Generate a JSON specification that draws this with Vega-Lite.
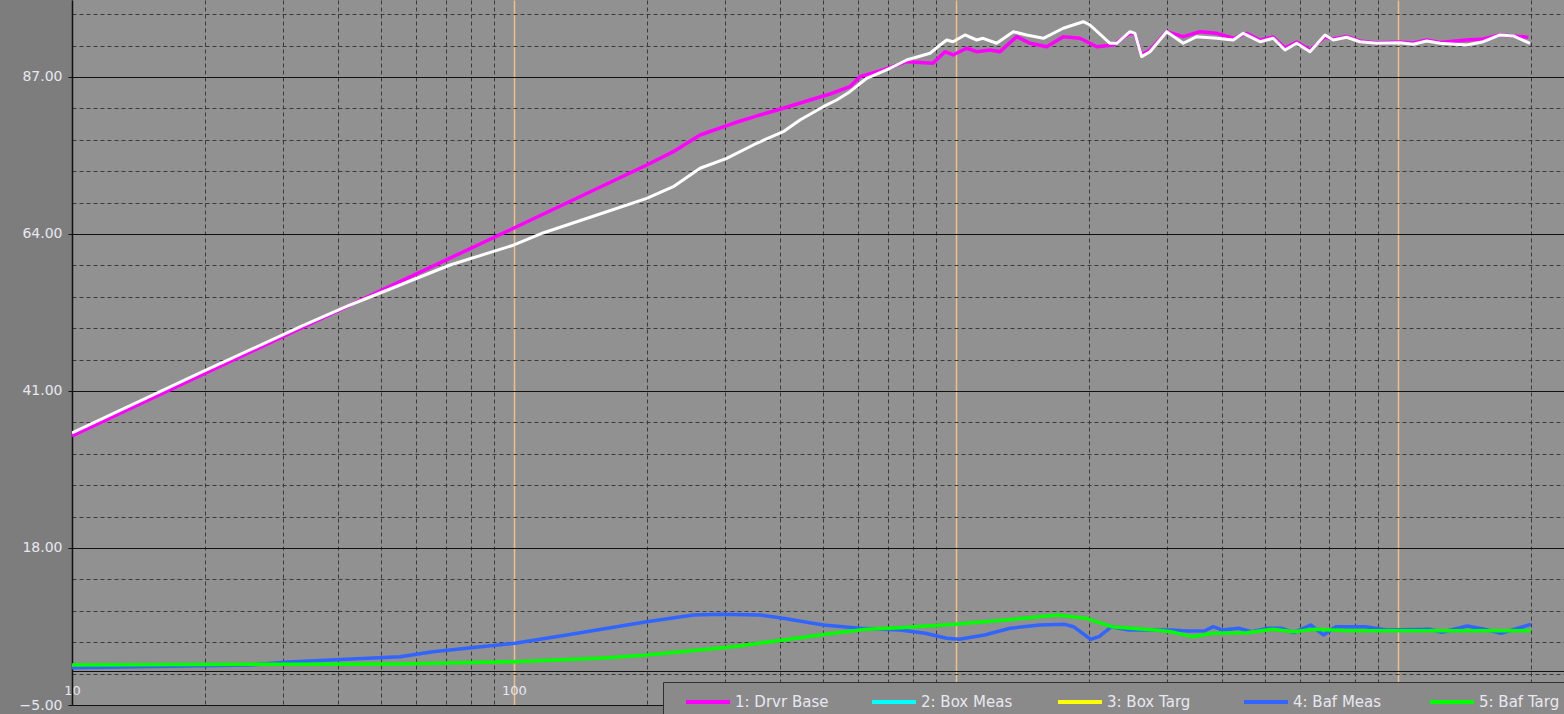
{
  "$schema": "https://vega.github.io/schema/vega-lite/v6.json",
  "width": 1492,
  "height": 705,
  "autosize": {"type": "none"},
  "padding": {"left": 72, "top": 0, "right": 0, "bottom": 9},
  "background": "#7d7d7d",
  "config": {
    "view": {"fill": "#919191", "stroke": null},
    "font": "DejaVu Sans"
  },
  "data": {
    "values": [
      {"s": "1: Drvr Base", "f": 10, "v": 34.41},
      {"s": "1: Drvr Base", "f": 32.8, "v": 50.13},
      {"s": "1: Drvr Base", "f": 100, "v": 64.88},
      {"s": "1: Drvr Base", "f": 199.7, "v": 74.11},
      {"s": "1: Drvr Base", "f": 229.3, "v": 76.06},
      {"s": "1: Drvr Base", "f": 263.6, "v": 78.5},
      {"s": "1: Drvr Base", "f": 313.5, "v": 80.22},
      {"s": "1: Drvr Base", "f": 360.3, "v": 81.44},
      {"s": "1: Drvr Base", "f": 399.6, "v": 82.27},
      {"s": "1: Drvr Base", "f": 467.4, "v": 83.63},
      {"s": "1: Drvr Base", "f": 518.6, "v": 84.51},
      {"s": "1: Drvr Base", "f": 575.6, "v": 85.58},
      {"s": "1: Drvr Base", "f": 606.4, "v": 87.05},
      {"s": "1: Drvr Base", "f": 683.8, "v": 88.03},
      {"s": "1: Drvr Base", "f": 773.5, "v": 89.24},
      {"s": "1: Drvr Base", "f": 887.2, "v": 89.01},
      {"s": "1: Drvr Base", "f": 944.4, "v": 90.71},
      {"s": "1: Drvr Base", "f": 984.5, "v": 90.23},
      {"s": "1: Drvr Base", "f": 1057, "v": 91.21},
      {"s": "1: Drvr Base", "f": 1114, "v": 90.71},
      {"s": "1: Drvr Base", "f": 1194, "v": 90.96},
      {"s": "1: Drvr Base", "f": 1258, "v": 90.71},
      {"s": "1: Drvr Base", "f": 1372, "v": 92.91},
      {"s": "1: Drvr Base", "f": 1470, "v": 91.94},
      {"s": "1: Drvr Base", "f": 1604, "v": 91.44},
      {"s": "1: Drvr Base", "f": 1749, "v": 92.91},
      {"s": "1: Drvr Base", "f": 1908, "v": 92.67},
      {"s": "1: Drvr Base", "f": 2082, "v": 91.44},
      {"s": "1: Drvr Base", "f": 2269, "v": 91.69},
      {"s": "1: Drvr Base", "f": 2476, "v": 93.45},
      {"s": "1: Drvr Base", "f": 2541, "v": 93.3},
      {"s": "1: Drvr Base", "f": 2631, "v": 90.23},
      {"s": "1: Drvr Base", "f": 2748, "v": 90.96},
      {"s": "1: Drvr Base", "f": 2998, "v": 93.64},
      {"s": "1: Drvr Base", "f": 3268, "v": 92.91},
      {"s": "1: Drvr Base", "f": 3566, "v": 93.64},
      {"s": "1: Drvr Base", "f": 3889, "v": 93.4},
      {"s": "1: Drvr Base", "f": 4240, "v": 92.67},
      {"s": "1: Drvr Base", "f": 4547, "v": 93.4},
      {"s": "1: Drvr Base", "f": 4873, "v": 92.42},
      {"s": "1: Drvr Base", "f": 5222, "v": 92.86},
      {"s": "1: Drvr Base", "f": 5551, "v": 91.25},
      {"s": "1: Drvr Base", "f": 5900, "v": 92.13},
      {"s": "1: Drvr Base", "f": 6323, "v": 90.96},
      {"s": "1: Drvr Base", "f": 6838, "v": 92.86},
      {"s": "1: Drvr Base", "f": 7140, "v": 92.57},
      {"s": "1: Drvr Base", "f": 7655, "v": 92.94},
      {"s": "1: Drvr Base", "f": 8204, "v": 92.28},
      {"s": "1: Drvr Base", "f": 8948, "v": 91.98},
      {"s": "1: Drvr Base", "f": 10104, "v": 92.13},
      {"s": "1: Drvr Base", "f": 10830, "v": 91.98},
      {"s": "1: Drvr Base", "f": 11615, "v": 92.42},
      {"s": "1: Drvr Base", "f": 12449, "v": 92.06},
      {"s": "1: Drvr Base", "f": 14304, "v": 92.42},
      {"s": "1: Drvr Base", "f": 15600, "v": 92.57},
      {"s": "1: Drvr Base", "f": 17013, "v": 93.16},
      {"s": "1: Drvr Base", "f": 18234, "v": 93.01},
      {"s": "1: Drvr Base", "f": 19720, "v": 92.82},

      {"s": "4: Baf Meas", "f": 10, "v": 0.45},
      {"s": "4: Baf Meas", "f": 25.27, "v": 0.86},
      {"s": "4: Baf Meas", "f": 30.82, "v": 1.3},
      {"s": "4: Baf Meas", "f": 55.22, "v": 2.08},
      {"s": "4: Baf Meas", "f": 65.57, "v": 2.81},
      {"s": "4: Baf Meas", "f": 100.5, "v": 4.04},
      {"s": "4: Baf Meas", "f": 131.6, "v": 5.26},
      {"s": "4: Baf Meas", "f": 199.7, "v": 7.2},
      {"s": "4: Baf Meas", "f": 254.5, "v": 8.19},
      {"s": "4: Baf Meas", "f": 292.5, "v": 8.29},
      {"s": "4: Baf Meas", "f": 360.3, "v": 8.19},
      {"s": "4: Baf Meas", "f": 406.6, "v": 7.7},
      {"s": "4: Baf Meas", "f": 500.8, "v": 6.72},
      {"s": "4: Baf Meas", "f": 606.4, "v": 6.24},
      {"s": "4: Baf Meas", "f": 746.9, "v": 5.99},
      {"s": "4: Baf Meas", "f": 852.7, "v": 5.5},
      {"s": "4: Baf Meas", "f": 952.6, "v": 4.77},
      {"s": "4: Baf Meas", "f": 1017, "v": 4.63},
      {"s": "4: Baf Meas", "f": 1161, "v": 5.26},
      {"s": "4: Baf Meas", "f": 1325, "v": 6.24},
      {"s": "4: Baf Meas", "f": 1547, "v": 6.72},
      {"s": "4: Baf Meas", "f": 1765, "v": 6.82},
      {"s": "4: Baf Meas", "f": 1845, "v": 6.47},
      {"s": "4: Baf Meas", "f": 2016, "v": 4.63},
      {"s": "4: Baf Meas", "f": 2107, "v": 5.01},
      {"s": "4: Baf Meas", "f": 2250, "v": 6.47},
      {"s": "4: Baf Meas", "f": 2458, "v": 5.99},
      {"s": "4: Baf Meas", "f": 2805, "v": 5.99},
      {"s": "4: Baf Meas", "f": 3066, "v": 5.99},
      {"s": "4: Baf Meas", "f": 3347, "v": 5.84},
      {"s": "4: Baf Meas", "f": 3655, "v": 5.88},
      {"s": "4: Baf Meas", "f": 3820, "v": 6.47},
      {"s": "4: Baf Meas", "f": 3993, "v": 5.99},
      {"s": "4: Baf Meas", "f": 4361, "v": 6.24},
      {"s": "4: Baf Meas", "f": 4662, "v": 5.74},
      {"s": "4: Baf Meas", "f": 5088, "v": 6.24},
      {"s": "4: Baf Meas", "f": 5436, "v": 6.24},
      {"s": "4: Baf Meas", "f": 5808, "v": 5.59},
      {"s": "4: Baf Meas", "f": 6346, "v": 6.72},
      {"s": "4: Baf Meas", "f": 6781, "v": 5.26},
      {"s": "4: Baf Meas", "f": 7241, "v": 6.47},
      {"s": "4: Baf Meas", "f": 8452, "v": 6.47},
      {"s": "4: Baf Meas", "f": 9438, "v": 5.99},
      {"s": "4: Baf Meas", "f": 11773, "v": 6.09},
      {"s": "4: Baf Meas", "f": 12573, "v": 5.65},
      {"s": "4: Baf Meas", "f": 14349, "v": 6.57},
      {"s": "4: Baf Meas", "f": 15681, "v": 6.09},
      {"s": "4: Baf Meas", "f": 17128, "v": 5.5},
      {"s": "4: Baf Meas", "f": 18687, "v": 6.24},
      {"s": "4: Baf Meas", "f": 19976, "v": 6.82},

      {"s": "5: Baf Targ", "f": 10, "v": 0.86},
      {"s": "5: Baf Targ", "f": 32.8, "v": 0.98},
      {"s": "5: Baf Targ", "f": 55.22, "v": 1.01},
      {"s": "5: Baf Targ", "f": 100.5, "v": 1.34},
      {"s": "5: Baf Targ", "f": 156.5, "v": 1.84},
      {"s": "5: Baf Targ", "f": 199.7, "v": 2.33},
      {"s": "5: Baf Targ", "f": 313.5, "v": 3.54},
      {"s": "5: Baf Targ", "f": 406.6, "v": 4.52},
      {"s": "5: Baf Targ", "f": 527.7, "v": 5.5},
      {"s": "5: Baf Targ", "f": 628, "v": 6.09},
      {"s": "5: Baf Targ", "f": 746.9, "v": 6.32},
      {"s": "5: Baf Targ", "f": 994.8, "v": 6.82},
      {"s": "5: Baf Targ", "f": 1296, "v": 7.45},
      {"s": "5: Baf Targ", "f": 1689, "v": 8.19},
      {"s": "5: Baf Targ", "f": 1972, "v": 7.7},
      {"s": "5: Baf Targ", "f": 2250, "v": 6.47},
      {"s": "5: Baf Targ", "f": 2805, "v": 5.99},
      {"s": "5: Baf Targ", "f": 3066, "v": 5.74},
      {"s": "5: Baf Targ", "f": 3420, "v": 5.01},
      {"s": "5: Baf Targ", "f": 3820, "v": 5.5},
      {"s": "5: Baf Targ", "f": 4559, "v": 5.59},
      {"s": "5: Baf Targ", "f": 5203, "v": 6.09},
      {"s": "5: Baf Targ", "f": 5808, "v": 5.74},
      {"s": "5: Baf Targ", "f": 6487, "v": 6.09},
      {"s": "5: Baf Targ", "f": 7739, "v": 5.88},
      {"s": "5: Baf Targ", "f": 10535, "v": 5.88},
      {"s": "5: Baf Targ", "f": 19976, "v": 5.88},

      {"s": "W", "f": 10, "v": 34.85},
      {"s": "W", "f": 19.48, "v": 43.64},
      {"s": "W", "f": 32.8, "v": 50.38},
      {"s": "W", "f": 42.56, "v": 53.6},
      {"s": "W", "f": 55.22, "v": 56.53},
      {"s": "W", "f": 71.66, "v": 59.46},
      {"s": "W", "f": 100, "v": 62.39},
      {"s": "W", "f": 116.3, "v": 64.15},
      {"s": "W", "f": 156.5, "v": 66.93},
      {"s": "W", "f": 199.7, "v": 69.23},
      {"s": "W", "f": 229.3, "v": 70.93},
      {"s": "W", "f": 263.6, "v": 73.63},
      {"s": "W", "f": 302.9, "v": 75.09},
      {"s": "W", "f": 354.1, "v": 77.29},
      {"s": "W", "f": 406.6, "v": 78.99},
      {"s": "W", "f": 443.7, "v": 80.7},
      {"s": "W", "f": 500.8, "v": 82.65},
      {"s": "W", "f": 537.1, "v": 83.63},
      {"s": "W", "f": 575.6, "v": 84.85},
      {"s": "W", "f": 628, "v": 86.81},
      {"s": "W", "f": 709.2, "v": 88.28},
      {"s": "W", "f": 773.5, "v": 89.49},
      {"s": "W", "f": 873.4, "v": 90.47},
      {"s": "W", "f": 920.1, "v": 91.69},
      {"s": "W", "f": 952.8, "v": 92.42},
      {"s": "W", "f": 984.5, "v": 92.17},
      {"s": "W", "f": 1048, "v": 93.16},
      {"s": "W", "f": 1114, "v": 92.42},
      {"s": "W", "f": 1151, "v": 92.67},
      {"s": "W", "f": 1236, "v": 91.94},
      {"s": "W", "f": 1348, "v": 93.64},
      {"s": "W", "f": 1445, "v": 93.16},
      {"s": "W", "f": 1576, "v": 92.67},
      {"s": "W", "f": 1749, "v": 94.14},
      {"s": "W", "f": 1941, "v": 95.1},
      {"s": "W", "f": 2010, "v": 94.62},
      {"s": "W", "f": 2231, "v": 91.94},
      {"s": "W", "f": 2310, "v": 91.94},
      {"s": "W", "f": 2476, "v": 93.64},
      {"s": "W", "f": 2541, "v": 93.4},
      {"s": "W", "f": 2631, "v": 89.98},
      {"s": "W", "f": 2748, "v": 90.71},
      {"s": "W", "f": 2998, "v": 93.64},
      {"s": "W", "f": 3268, "v": 91.94},
      {"s": "W", "f": 3505, "v": 92.91},
      {"s": "W", "f": 3889, "v": 92.67},
      {"s": "W", "f": 4240, "v": 92.42},
      {"s": "W", "f": 4467, "v": 93.4},
      {"s": "W", "f": 4873, "v": 92.17},
      {"s": "W", "f": 5222, "v": 92.67},
      {"s": "W", "f": 5551, "v": 90.96},
      {"s": "W", "f": 5900, "v": 91.94},
      {"s": "W", "f": 6323, "v": 90.71},
      {"s": "W", "f": 6838, "v": 93.16},
      {"s": "W", "f": 7140, "v": 92.42},
      {"s": "W", "f": 7655, "v": 92.82},
      {"s": "W", "f": 8204, "v": 92.17},
      {"s": "W", "f": 8948, "v": 91.94},
      {"s": "W", "f": 10104, "v": 92.03},
      {"s": "W", "f": 10830, "v": 91.79},
      {"s": "W", "f": 11615, "v": 92.28},
      {"s": "W", "f": 12449, "v": 91.94},
      {"s": "W", "f": 14304, "v": 91.69},
      {"s": "W", "f": 15600, "v": 92.17},
      {"s": "W", "f": 17013, "v": 93.16},
      {"s": "W", "f": 18234, "v": 93.01},
      {"s": "W", "f": 19895, "v": 91.94}
    ]
  },
  "encoding": {
    "x": {
      "field": "f",
      "type": "quantitative",
      "scale": {"type": "log", "domain": [10, 23750], "nice": false},
      "axis": {
        "values": [10,20,30,40,50,60,70,80,90,100,200,300,400,500,600,700,800,900,1000,2000,3000,4000,5000,6000,7000,8000,9000,10000,20000],
        "title": null,
        "domain": false,
        "ticks": false,
        "tickSize": 0,
        "grid": true,
        "gridColor": {"condition": {"test": "datum.value == 100 || datum.value == 1000 || datum.value == 10000", "value": "#f0c08c"}, "value": "#3a3a3a"},
        "gridDash": {"condition": {"test": "datum.value == 100 || datum.value == 1000 || datum.value == 10000", "value": []}, "value": [4, 3]},
        "gridWidth": {"condition": {"test": "datum.value == 100 || datum.value == 1000 || datum.value == 10000", "value": 1.5}, "value": 1},
        "gridOpacity": 1,
        "labelExpr": "datum.value == 10 || datum.value == 100 ? format(datum.value, 'd') : ''",
        "labelPadding": -15,
        "labelBaseline": "middle",
        "labelFlush": false,
        "labelOverlap": false,
        "labelBound": false,
        "labelFont": "DejaVu Sans",
        "labelFontSize": 13,
        "labelColor": "#e8e8f0"
      }
    },
    "y": {
      "field": "v",
      "type": "quantitative",
      "scale": {"domain": [-5, 98.28], "nice": false, "zero": false},
      "axis": {
        "values": [-5,-0.4,0,4.2,8.8,13.4,18,22.6,27.2,31.8,36.4,41,45.6,50.2,54.8,59.4,64,68.6,73.2,77.8,82.4,87,91.6,96.2],
        "title": null,
        "domain": true,
        "domainColor": "#111111",
        "domainWidth": 1.5,
        "grid": true,
        "gridColor": {"condition": {"test": "indexof([-5,0,18,41,64,87], datum.value) >= 0", "value": "#111111"}, "value": "#3a3a3a"},
        "gridDash": {"condition": {"test": "indexof([-5,0,18,41,64,87], datum.value) >= 0", "value": []}, "value": [4, 3]},
        "gridOpacity": 1,
        "gridWidth": 1,
        "ticks": true,
        "tickSize": 4,
        "tickColor": {"condition": {"test": "indexof([-5,18,41,64,87], datum.value) >= 0", "value": "#111111"}, "value": "transparent"},
        "labelExpr": "indexof([-5,18,41,64,87], datum.value) >= 0 ? format(datum.value, '.2f') : ''",
        "labelPadding": 6,
        "labelOverlap": false,
        "labelBound": false,
        "labelFlush": false,
        "labelFont": "DejaVu Sans",
        "labelFontSize": 14,
        "labelColor": "#e8e8f0"
      }
    }
  },
  "layer": [
    {
      "transform": [{"filter": "datum.s != 'W'"}],
      "mark": {"type": "line", "strokeWidth": 3.5, "strokeJoin": "round", "clip": true},
      "encoding": {
        "color": {
          "field": "s",
          "type": "nominal",
          "scale": {
            "domain": ["1: Drvr Base", "2: Box Meas", "3: Box Targ", "4: Baf Meas", "5: Baf Targ"],
            "range": ["#ff00ff", "#00ffff", "#ffff00", "#3264ff", "#00ff00"]
          },
          "legend": {
            "title": null,
            "orient": "none",
            "legendX": 591,
            "legendY": 682,
            "direction": "horizontal",
            "columns": 5,
            "gridAlign": "all",
            "fillColor": "#8a8a8a",
            "strokeColor": "#303030",
            "padding": 12,
            "clipHeight": 16,
            "symbolType": "stroke",
            "symbolSize": 1936,
            "symbolStrokeWidth": 4,
            "symbolOffset": 9,
            "labelOffset": 3,
            "columnPadding": 32,
            "labelFont": "DejaVu Sans",
            "labelFontSize": 15,
            "labelColor": "#e8e8f0",
            "labelLimit": 200
          }
        }
      }
    },
    {
      "transform": [{"filter": "datum.s == 'W'"}],
      "mark": {"type": "line", "strokeWidth": 3, "strokeJoin": "round", "color": "#ffffff", "clip": true},
      "encoding": {}
    }
  ]
}
